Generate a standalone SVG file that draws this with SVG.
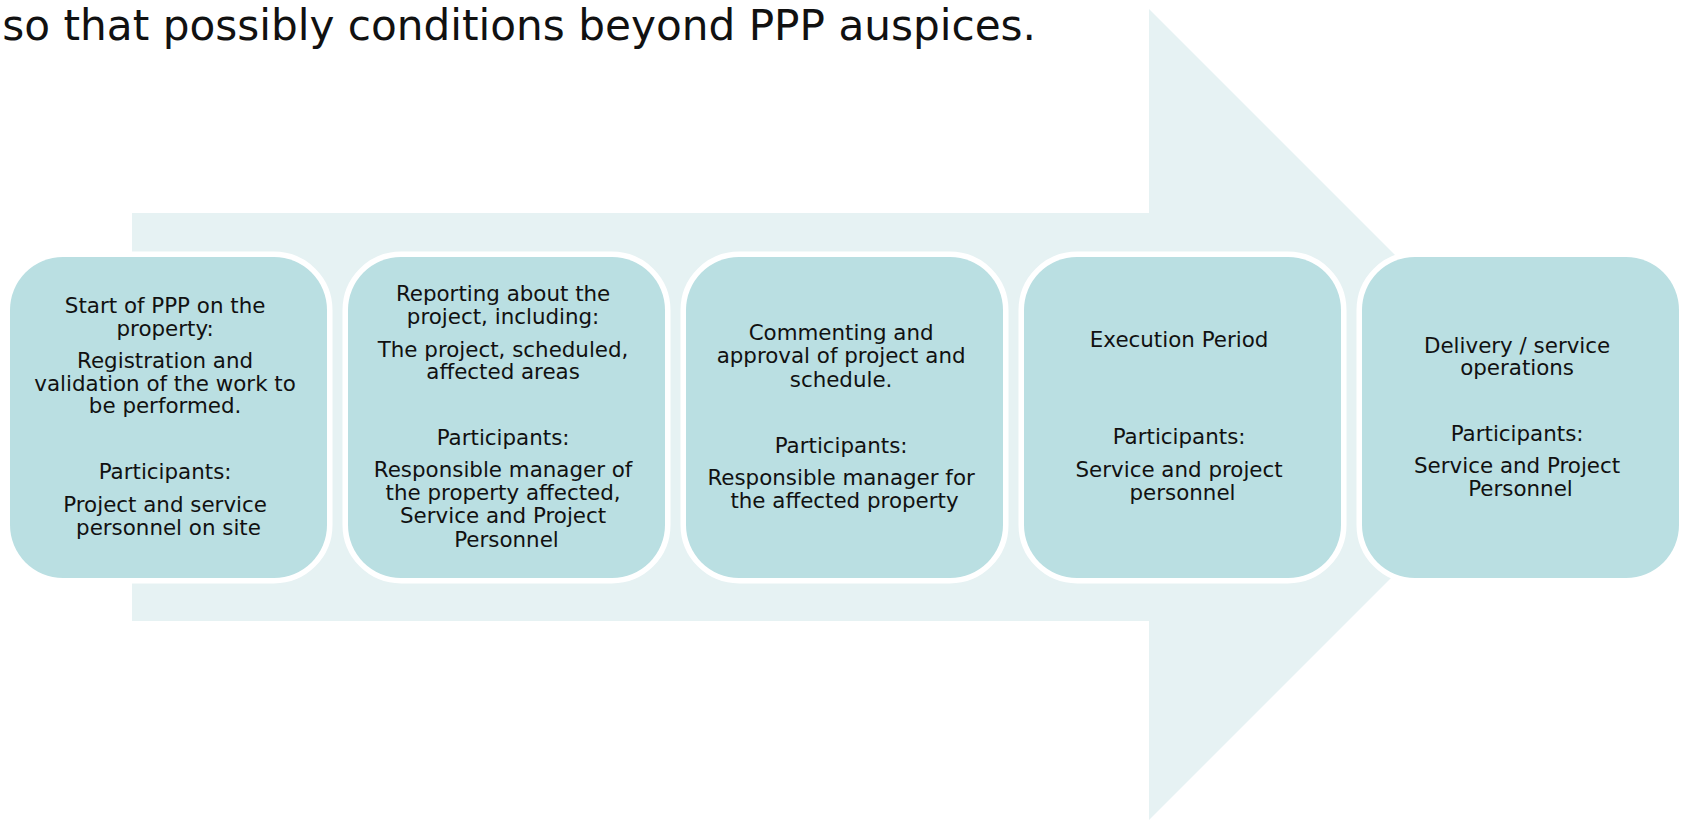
<svg xmlns="http://www.w3.org/2000/svg" width="1681" height="820" viewBox="0 0 1681 820">
  <style>
    .bg { fill: #ffffff; }
    .flow { fill: #e6f2f3; }
    .step { fill: #badfe2; stroke: #ffffff; stroke-width: 11; paint-order: stroke fill; }
    .lbl { font-family: "DejaVu Sans", Verdana, sans-serif; font-size: 21.4px; fill: #111111; text-anchor: middle; }
    .title { font-family: "DejaVu Sans", Verdana, sans-serif; font-size: 42.2px; fill: #111111; text-anchor: end; }
  </style>
  <rect class="bg" x="0" y="0" width="1681" height="820"/>

  <text class="title" x="1036" y="40">so that possibly conditions beyond PPP auspices.</text>

  <!-- large background arrow carrying the process -->
  <g id="connectors">
    <polygon class="flow" points="132,213 1149,213 1149,9 1554.5,414.5 1149,820 1149,621 132,621"/>
  </g>

  <g id="step1">
    <rect class="step" x="10" y="257" width="317" height="321" rx="53" ry="53"/>
    <text class="lbl">
      <tspan x="168.5" y="313">Start of PPP on the</tspan>
      <tspan x="168.5" y="336">property:</tspan>
      <tspan x="168.5" y="368">Registration and</tspan>
      <tspan x="168.5" y="391">validation of the work to</tspan>
      <tspan x="168.5" y="413">be performed.</tspan>
      <tspan x="168.5" y="479">Participants:</tspan>
      <tspan x="168.5" y="512">Project and service</tspan>
      <tspan x="168.5" y="535">personnel on site</tspan>
    </text>
  </g>

  <g id="step2">
    <rect class="step" x="348" y="257" width="317" height="321" rx="53" ry="53"/>
    <text class="lbl">
      <tspan x="506.5" y="301">Reporting about the</tspan>
      <tspan x="506.5" y="324">project, including:</tspan>
      <tspan x="506.5" y="357">The project, scheduled,</tspan>
      <tspan x="506.5" y="379">affected areas</tspan>
      <tspan x="506.5" y="445">Participants:</tspan>
      <tspan x="506.5" y="477">Responsible manager of</tspan>
      <tspan x="506.5" y="500">the property affected,</tspan>
      <tspan x="506.5" y="523">Service and Project</tspan>
      <tspan x="506.5" y="547">Personnel</tspan>
    </text>
  </g>

  <g id="step3">
    <rect class="step" x="686" y="257" width="317" height="321" rx="53" ry="53"/>
    <text class="lbl">
      <tspan x="844.5" y="340">Commenting and</tspan>
      <tspan x="844.5" y="363">approval of project and</tspan>
      <tspan x="844.5" y="387">schedule.</tspan>
      <tspan x="844.5" y="453">Participants:</tspan>
      <tspan x="844.5" y="485">Responsible manager for</tspan>
      <tspan x="844.5" y="508">the affected property</tspan>
    </text>
  </g>

  <g id="step4">
    <rect class="step" x="1024" y="257" width="317" height="321" rx="53" ry="53"/>
    <text class="lbl">
      <tspan x="1182.5" y="347">Execution Period</tspan>
      <tspan x="1182.5" y="444">Participants:</tspan>
      <tspan x="1182.5" y="477">Service and project</tspan>
      <tspan x="1182.5" y="500">personnel</tspan>
    </text>
  </g>

  <g id="step5">
    <rect class="step" x="1362" y="257" width="317" height="321" rx="53" ry="53"/>
    <text class="lbl">
      <tspan x="1520.5" y="353">Delivery / service</tspan>
      <tspan x="1520.5" y="375">operations</tspan>
      <tspan x="1520.5" y="441">Participants:</tspan>
      <tspan x="1520.5" y="473">Service and Project</tspan>
      <tspan x="1520.5" y="496">Personnel</tspan>
    </text>
  </g>
</svg>
